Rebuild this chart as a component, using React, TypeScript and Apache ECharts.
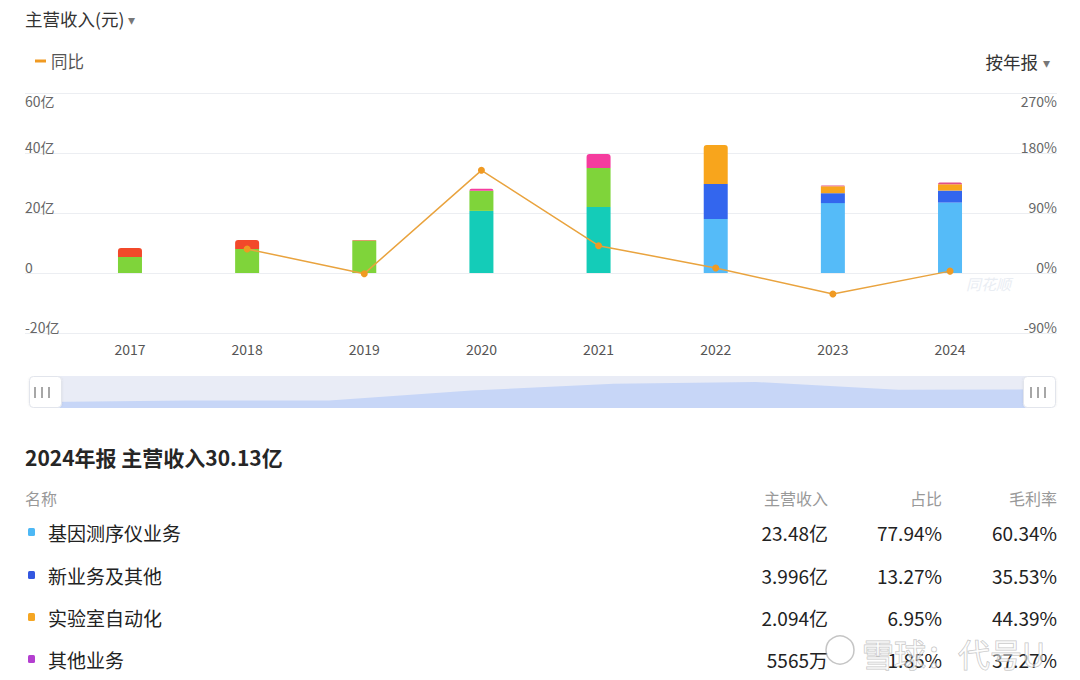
import React, { useEffect, useRef } from 'react';
import * as echarts from 'echarts';

// ---- chart data ----
const years = ['2017', '2018', '2019', '2020', '2021', '2022', '2023', '2024'];
const seqBusiness = [null, null, null, null, null, 18.0, 23.3, 23.48]; // 基因测序仪业务
const tealSegment = [null, null, null, 20.7, 22.0, null, null, null];
const greenSegment = [5.3, 8.0, 10.8, 6.7, 13.0, null, null, null];
const newBusiness = [null, null, null, null, null, 11.7, 3.3, 3.996]; // 新业务及其他
const labAutomation = [null, null, null, null, null, 13.0, 2.3, 2.094]; // 实验室自动化
const redSegment = [3.0, 3.0, 0.2, null, null, null, null, null];
const pinkSegment = [null, null, null, 0.7, 4.7, null, null, null];
const otherBusiness = [null, null, null, null, null, null, 0.3, 0.5565]; // 其他业务
const yoyGrowth = [null, 36, -1, 154, 41, 7.5, -31.5, 2.8]; // 同比 %

const leftMin = -20, leftMax = 60, leftInterval = 20;
const rightMin = -90, rightMax = 270, rightInterval = 90;

// ---- table data (2024) ----
const tableNames = ['基因测序仪业务', '新业务及其他', '实验室自动化', '其他业务'];
const tableRevenue = [23.48, 3.996, 2.094, 0.5565]; // 亿
const tableShare = [77.94, 13.27, 6.95, 1.85];
const tableMargin = [60.34, 35.53, 44.39, 37.27];
const tableColors = ['#4db8f5', '#3357e0', '#f5a623', '#b43fd0'];

const FONT = '"Noto Sans CJK SC", "Noto Sans", sans-serif';

const segDefs = [
  { name: '基因测序仪业务', data: seqBusiness, color: '#55bbf8' },
  { name: '测序业务A', data: tealSegment, color: '#14ccb8' },
  { name: '测序业务B', data: greenSegment, color: '#7fd43a' },
  { name: '新业务及其他', data: newBusiness, color: '#3366ee' },
  { name: '实验室自动化', data: labAutomation, color: '#f8a51c' },
  { name: '其他A', data: redSegment, color: '#f2492a' },
  { name: '其他B', data: pinkSegment, color: '#f53c9e' },
  { name: '其他业务', data: otherBusiness, color: '#e0508a' },
];

function fmtRevenue(v: number) {
  return v >= 1 ? `${v}亿` : `${Math.round(v * 10000)}万`;
}

export default function App() {
  const ref = useRef<HTMLDivElement>(null);

  useEffect(() => {
    if (!ref.current) return;
    const chart = echarts.init(ref.current, undefined, { renderer: 'svg' });

    const topIdx = years.map((_, i) => {
      let t = -1;
      segDefs.forEach((s, si) => { if (s.data[i] != null) t = si; });
      return t;
    });
    const totals = years.map((_, i) => segDefs.reduce((a, s) => a + ((s.data[i] as number) || 0), 0));

    const barSeries = segDefs.map((s, si) => ({
      type: 'bar',
      name: s.name,
      stack: 'rev',
      xAxisIndex: 1,
      yAxisIndex: 2,
      barWidth: 24,
      itemStyle: { color: s.color },
      data: s.data.map((v, i) =>
        v == null ? null : (topIdx[i] === si ? { value: v, itemStyle: { borderRadius: [3, 3, 0, 0] } } : v)
      ),
      z: 2,
    }));

    const leftFmt = (v: number) => (v === 0 ? '0' : `${v}亿`);
    const rightFmt = (v: number) => `${v}%`;
    const richLabel = (fmt: (v: number) => string, max: number) => ({
      inside: true,
      margin: 0,
      formatter: (v: number) => (v === max ? `{s2| }\n{v|${fmt(v)}}` : `{v|${fmt(v)}}\n{s| }`),
      rich: {
        v: { fontSize: 14, lineHeight: 16, color: '#666', fontFamily: FONT },
        s: { fontSize: 1, lineHeight: 13 },
        s2: { fontSize: 1, lineHeight: 15 },
      },
    });

    const sum2024 = tableRevenue.reduce((a, b) => a + b, 0);

    const graphics: any[] = [
      { type: 'text', x: 25, y: 18, style: { text: '主营收入(元)', fontSize: 17.5, fill: '#333', verticalAlign: 'middle', fontFamily: FONT } },
      { type: 'text', x: 128, y: 19, style: { text: '▾', fontSize: 14, fill: '#777', verticalAlign: 'middle', fontFamily: FONT } },
      { type: 'text', x: 1038, y: 61, style: { text: '按年报', fontSize: 17.5, fill: '#333', align: 'right', verticalAlign: 'middle', fontFamily: FONT } },
      { type: 'text', x: 1043, y: 62, style: { text: '▾', fontSize: 14, fill: '#777', verticalAlign: 'middle', fontFamily: FONT } },
      {
        type: 'text', x: 966, y: 283,
        style: { text: '同花顺', fontSize: 15, fontStyle: 'italic', fill: '#e9edf3', verticalAlign: 'middle', fontFamily: FONT },
      },
      {
        type: 'text', x: 25, y: 457,
        style: {
          text: `2024年报 主营收入${sum2024.toFixed(2)}亿`,
          fontSize: 21, fontWeight: 'bold', fill: '#262626', verticalAlign: 'middle', fontFamily: FONT,
        },
      },
      { type: 'text', x: 25, y: 498, style: { text: '名称', fontSize: 16, fill: '#999', verticalAlign: 'middle', fontFamily: FONT } },
      { type: 'text', x: 828, y: 498, style: { text: '主营收入', fontSize: 16, fill: '#999', align: 'right', verticalAlign: 'middle', fontFamily: FONT } },
      { type: 'text', x: 942, y: 498, style: { text: '占比', fontSize: 16, fill: '#999', align: 'right', verticalAlign: 'middle', fontFamily: FONT } },
      { type: 'text', x: 1057, y: 498, style: { text: '毛利率', fontSize: 16, fill: '#999', align: 'right', verticalAlign: 'middle', fontFamily: FONT } },
    ];

    const rowY = [532, 575, 617, 659];
    tableNames.forEach((n, i) => {
      const y = rowY[i];
      graphics.push(
        { type: 'rect', shape: { x: 28, y: y - 4, width: 7, height: 8, r: 1.5 }, style: { fill: tableColors[i] } },
        { type: 'text', x: 48, y, style: { text: n, fontSize: 19, fill: '#222', verticalAlign: 'middle', fontFamily: FONT } },
        { type: 'text', x: 828, y, style: { text: fmtRevenue(tableRevenue[i]), fontSize: 19, fill: '#222', align: 'right', verticalAlign: 'middle', fontFamily: FONT } },
        { type: 'text', x: 942, y, style: { text: `${tableShare[i].toFixed(2)}%`, fontSize: 19, fill: '#222', align: 'right', verticalAlign: 'middle', fontFamily: FONT } },
        { type: 'text', x: 1057, y, style: { text: `${tableMargin[i].toFixed(2)}%`, fontSize: 19, fill: '#222', align: 'right', verticalAlign: 'middle', fontFamily: FONT } },
      );
    });

    [42, 1038].forEach((cx) => {
      [-7, 0, 7].forEach((dx) => {
        graphics.push({
          type: 'line', z: 100,
          shape: { x1: cx + dx, y1: 387, x2: cx + dx, y2: 398 },
          style: { stroke: '#8a8a8a', lineWidth: 1.5 },
        });
      });
    });

    graphics.push({
      type: 'text', x: 862, y: 653, z: 100,
      style: {
        text: '雪球：代号U', fontSize: 32, fill: 'rgba(255,255,255,0.55)',
        stroke: 'rgba(140,140,140,0.55)', lineWidth: 1, verticalAlign: 'middle', fontFamily: FONT,
      },
    });
    graphics.push({
      type: 'circle', z: 100, shape: { cx: 840, cy: 650, r: 14 },
      style: { fill: 'rgba(255,255,255,0.4)', stroke: 'rgba(140,140,140,0.5)', lineWidth: 1.5 },
    });

    chart.setOption({
      animation: false,
      textStyle: { fontFamily: FONT },
      legend: {
        data: ['同比'],
        left: 30,
        top: 47,
        icon: 'rect',
        itemWidth: 11,
        itemHeight: 3,
        itemGap: 10,
        textStyle: { fontSize: 16.5, color: '#555', lineHeight: 18, fontFamily: FONT },
        selectedMode: false,
      },
      grid: [
        { left: 25, right: 23, top: 93, bottom: 347 },
        { left: 71.4, right: 71.4, top: 93, bottom: 347 },
      ],
      xAxis: [
        { type: 'category', gridIndex: 0, data: years, show: false },
        {
          type: 'category', gridIndex: 1, data: years,
          axisLine: { show: false }, axisTick: { show: false },
          axisLabel: { color: '#555', fontSize: 14, margin: 9, fontFamily: FONT },
        },
      ],
      yAxis: [
        {
          type: 'value', gridIndex: 0, position: 'left',
          min: leftMin, max: leftMax, interval: leftInterval,
          axisLine: { show: false }, axisTick: { show: false },
          axisLabel: richLabel(leftFmt, leftMax),
          splitLine: { lineStyle: { color: '#eceef2', width: 1 } },
        },
        {
          type: 'value', gridIndex: 0, position: 'right',
          min: rightMin, max: rightMax, interval: rightInterval,
          axisLine: { show: false }, axisTick: { show: false },
          axisLabel: richLabel(rightFmt, rightMax),
          splitLine: { show: false },
        },
        { type: 'value', gridIndex: 1, min: leftMin, max: leftMax, interval: leftInterval, show: false, splitLine: { show: false } },
        { type: 'value', gridIndex: 1, min: rightMin, max: rightMax, interval: rightInterval, show: false, splitLine: { show: false } },
      ],
      dataZoom: [
        {
          type: 'slider',
          xAxisIndex: [1],
          start: 0,
          end: 100,
          left: 42,
          right: 42,
          top: 376,
          height: 32,
          showDetail: false,
          brushSelect: false,
          borderColor: 'transparent',
          backgroundColor: '#e9ecf6',
          fillerColor: 'rgba(0,0,0,0)',
          handleIcon: 'path://M4,0H29Q33,0 33,4V28Q33,32 29,32H4Q0,32 0,28V4Q0,0 4,0Z',
          handleSize: '100%',
          handleStyle: { color: '#fff', borderColor: '#e2e5ec', borderWidth: 1, shadowBlur: 2, shadowColor: 'rgba(0,0,0,0.08)' },
          moveHandleSize: 0,
          moveHandleStyle: { opacity: 0 },
          dataBackground: { lineStyle: { opacity: 0 }, areaStyle: { color: '#c7d6f7', opacity: 1 } },
          selectedDataBackground: { lineStyle: { opacity: 0 }, areaStyle: { color: '#c7d6f7', opacity: 1 } },
          emphasis: { handleStyle: { color: '#fff', borderColor: '#e2e5ec' }, moveHandleStyle: { opacity: 0 } },
        },
      ],
      graphic: graphics,
      series: [
        {
          type: 'line',
          name: '合计',
          xAxisIndex: 1,
          yAxisIndex: 2,
          data: totals,
          symbol: 'none',
          lineStyle: { opacity: 0 },
          silent: true,
          z: 0,
        },
        ...barSeries,
        {
          type: 'line',
          name: '同比',
          xAxisIndex: 1,
          yAxisIndex: 3,
          data: yoyGrowth,
          symbol: 'circle',
          symbolSize: 7,
          color: '#eca23a',
          lineStyle: { color: '#e9a33e', width: 1.5 },
          itemStyle: { color: '#f09a22' },
          z: 5,
        },
      ],
    });

    return () => chart.dispose();
  }, []);

  return (
    <div style={{ position: 'fixed', left: 0, top: 0, width: 1080, height: 680, background: '#fff' }}>
      <div ref={ref} style={{ width: 1080, height: 680 }} />
    </div>
  );
}
